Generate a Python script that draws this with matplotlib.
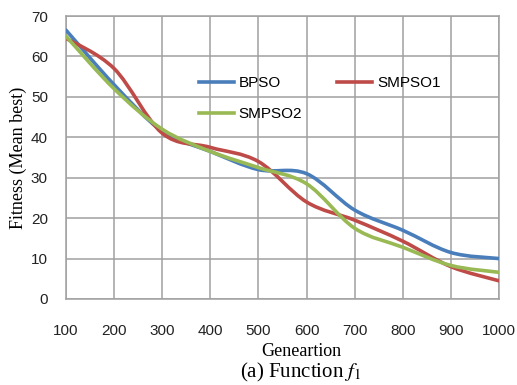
import matplotlib
matplotlib.use('Agg')
import matplotlib.pyplot as plt
from matplotlib.path import Path
from matplotlib.patches import PathPatch
import numpy as np

plt.rcParams['mathtext.fontset'] = 'stix'

generations = [100, 200, 300, 400, 500, 600, 700, 800, 900, 1000]
bpso = [66.5, 53, 41.5, 36.5, 32, 31, 22, 17, 11.5, 10]
smpso1 = [64.5, 57, 41, 37.5, 34, 24, 19.5, 14.3, 8, 4.5]
smpso2 = [65, 52, 42, 36.5, 32.5, 28.5, 17.5, 12.8, 8.3, 6.6]

series = [('BPSO', bpso, '#4A7EBB'),
          ('SMPSO1', smpso1, '#BE4B48'),
          ('SMPSO2', smpso2, '#98B954')]


def smooth_path(x, y):
    # Excel-style smoothed line: cubic Bezier through the points
    pts = np.column_stack([x, y]).astype(float)
    n = len(pts)
    verts = [pts[0]]
    codes = [Path.MOVETO]
    for i in range(n - 1):
        p0 = pts[i - 1] if i > 0 else pts[i]
        p1 = pts[i]
        p2 = pts[i + 1]
        p3 = pts[i + 2] if i + 2 < n else pts[i + 1]
        c1 = p1 + (p2 - p0) / 6.0
        c2 = p2 - (p3 - p1) / 6.0
        verts += [c1, c2, p2]
        codes += [Path.CURVE4] * 3
    return Path(verts, codes)


fig = plt.figure(figsize=(5.17, 3.85), dpi=100)
ax = fig.add_axes([66 / 517, 1 - 299 / 385, 433 / 517, 283 / 385])

grid_color = '#a0a0a0'
lw = 2.6
handles = {}
for name, vals, col in series:
    patch = PathPatch(smooth_path(generations, vals), facecolor='none',
                      edgecolor=col, linewidth=lw, capstyle='round',
                      joinstyle='round', zorder=3)
    ax.add_patch(patch)
    handles[name], = ax.plot([], [], color=col, linewidth=lw, label=name)

ax.set_xlim(100, 1000)
ax.set_ylim(0, 70)
ax.set_xticks(generations)
ax.set_yticks(range(0, 71, 10))
ax.grid(True, color=grid_color, linewidth=1.1)
ax.set_axisbelow(True)
for s in ax.spines.values():
    s.set_color(grid_color)
    s.set_linewidth(1.1)
ax.tick_params(length=0, labelsize=11, labelcolor='#222222')
ax.tick_params(axis='x', pad=18)
ax.tick_params(axis='y', pad=13)
for lab in ax.get_xticklabels() + ax.get_yticklabels():
    lab.set_family('Liberation Sans')

ax.set_ylabel('Fitness (Mean best)', family='Liberation Serif', fontsize=13,
              labelpad=3)

order = ['BPSO', 'SMPSO2', 'SMPSO1']
leg = ax.legend([handles[k] for k in order], order, ncol=2, frameon=False,
                loc='upper left', bbox_to_anchor=(0.275, 0.835),
                handlelength=2.3, handletextpad=0.3, columnspacing=2.3,
                labelspacing=1.1,
                prop={'family': 'Liberation Sans', 'size': 11})

fig.text(301 / 517, 1 - 351 / 385, 'Geneartion', family='Liberation Serif',
         fontsize=13, ha='center', va='center')
fig.text(301 / 517, 1 - 372 / 385, r'(a) Function $f_1$',
         family='Liberation Serif', fontsize=15, ha='center', va='center')

fig.savefig('out.png', dpi=100)
